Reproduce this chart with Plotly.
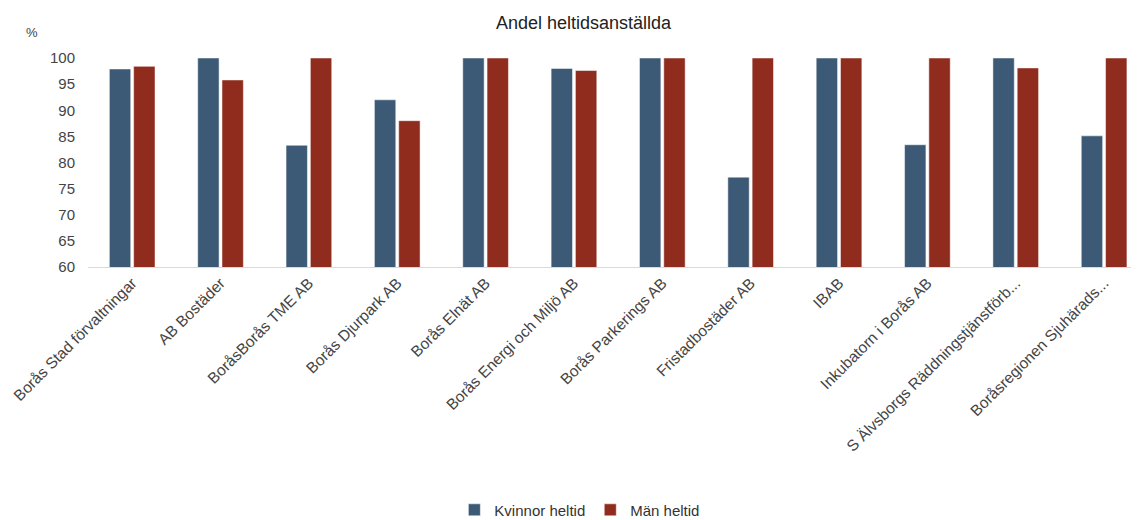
import plotly.graph_objects as go

categories = [
    "Borås Stad förvaltningar", "AB Bostäder", "BoråsBorås TME AB", "Borås Djurpark AB",
    "Borås Elnät AB", "Borås Energi och Miljö AB", "Borås Parkerings AB", "Fristadbostäder AB",
    "IBAB", "Inkubatorn i Borås AB", "S Älvsborgs Räddningstjänstförb...", "Boråsregionen Sjuhärads...",
]
kvinnor = [97.9, 100, 83.3, 92.0, 100, 98.0, 100, 77.2, 100, 83.4, 100, 85.1]
man = [98.4, 95.8, 100, 88.0, 100, 97.6, 100, 100, 100, 100, 98.1, 100]

FONT = "Liberation Sans, Arial, sans-serif"

# page body has an 8px margin, so figure is sized to fit the 1139x520 window
W, H = 1131, 512

fig = go.Figure()
fig.add_bar(x=categories, y=kvinnor, name="Kvinnor heltid", marker_color="#3C5A76",
            marker_line=dict(color="#ffffff", width=0.5))
fig.add_bar(x=categories, y=man, name="Män heltid", marker_color="#8F2C1D",
            marker_line=dict(color="#ffffff", width=0.5))

fig.update_layout(
    width=W, height=H,
    paper_bgcolor="white", plot_bgcolor="white",
    font=dict(family=FONT, size=13, color="#333333"),
    title=dict(text="Andel heltidsanställda", x=0.5088, xanchor="center", y=0.9707, yanchor="middle",
               font=dict(family=FONT, size=18, color="#222222"), automargin=False),
    margin=dict(l=80, r=0, t=50, b=253, pad=0, autoexpand=False),
    barmode="group", bargap=0.45, bargroupgap=0.12,
    showlegend=True,
    legend=dict(orientation="h", x=0.468, xanchor="center", y=-1.163, yanchor="middle",
                font=dict(family=FONT, size=15, color="#333333"), itemwidth=30,
                tracegroupgap=0),
    xaxis=dict(tickangle=-45, showgrid=False, showline=True, linecolor="#d9d9d9", linewidth=1,
               ticks="", automargin=False, range=[-0.5, 11.395],
               tickfont=dict(family=FONT, size=15.5, color="#444444")),
    yaxis=dict(range=[60, 100], dtick=5, showgrid=False, zeroline=False, showline=False,
               ticks="", automargin=False, ticklabelstandoff=12,
               tickfont=dict(family=FONT, size=15, color="#444444")),
    annotations=[dict(text="%", xref="paper", yref="paper", x=-0.0536, y=1.124,
                      xanchor="center", yanchor="middle",
                      showarrow=False, font=dict(family=FONT, size=13, color="#444444"))],
)

fig.write_html("out.html")
